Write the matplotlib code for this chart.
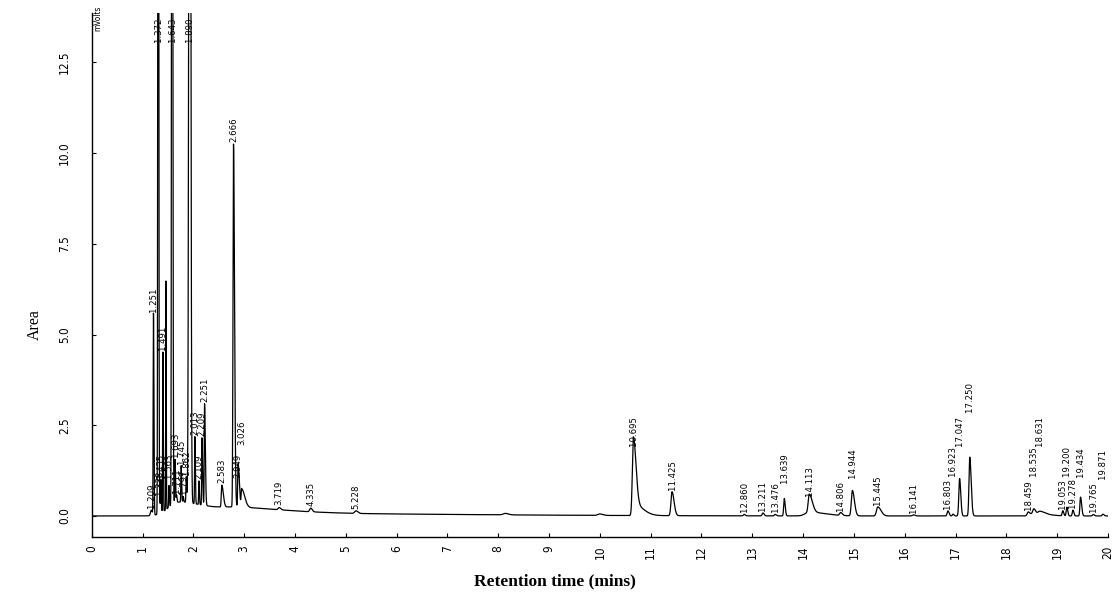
import numpy as np
import matplotlib
matplotlib.use("Agg")
import matplotlib.pyplot as plt

# ---------------- data ----------------
# peaks: position on the time axis (min), height above baseline (mV),
# left sigma (min), right-side tailing factor, printed label ("" = unlabeled)
peak_pos = [1.17, 1.215, 1.31, 1.335, 1.36, 1.40, 1.46, 1.52, 1.58, 1.64, 1.67,
            1.76, 1.80, 1.86, 1.93, 2.03, 2.11, 2.17, 2.22, 2.56, 2.79, 2.88,
            2.95, 3.69, 4.31, 5.20, 8.14, 10.00, 10.66, 10.66, 11.42, 12.84,
            13.21, 13.45, 13.63, 14.12, 14.12, 14.74, 14.97, 15.47, 16.17,
            16.85, 16.95, 17.08, 17.28, 18.43, 18.54, 18.66, 19.11, 19.19,
            19.31, 19.46, 19.71, 19.90]
peak_height = [0.15, 5.55, 40.0, 0.45, 0.90, 4.40, 6.30, 0.60, 40.0, 1.20, 0.20,
               1.00, 0.15, 0.70, 40.0, 1.85, 0.65, 1.85, 2.80, 0.60, 10.0, 1.20,
               0.50, 0.06, 0.10, 0.07, 0.04, 0.04, 1.85, 0.32, 0.66, 0.04,
               0.08, 0.04, 0.48, 0.50, 0.10, 0.08, 0.70, 0.25, 0.03,
               0.14, 0.05, 1.03, 1.62, 0.10, 0.12, 0.06, 0.14, 0.24,
               0.16, 0.52, 0.04, 0.05]
peak_sigma = [0.015, 0.006, 0.008, 0.006, 0.006, 0.005, 0.004, 0.006, 0.008, 0.006, 0.006,
              0.006, 0.006, 0.006, 0.016, 0.006, 0.006, 0.006, 0.006, 0.010, 0.010, 0.008,
              0.010, 0.020, 0.020, 0.025, 0.040, 0.040, 0.020, 0.020, 0.020, 0.015,
              0.015, 0.015, 0.012, 0.020, 0.080, 0.020, 0.020, 0.025, 0.020,
              0.015, 0.012, 0.015, 0.015, 0.020, 0.020, 0.030, 0.012, 0.012,
              0.012, 0.012, 0.015, 0.015]
peak_tail = [1.5, 1.5, 1.0, 1.5, 1.5, 1.5, 1.5, 1.5, 1.5, 1.5, 1.5,
             1.5, 1.5, 1.5, 1.0, 1.5, 1.5, 2.0, 2.5, 3.0, 2.0, 3.0,
             6.0, 1.5, 1.5, 1.5, 1.5, 1.5, 2.5, 9.0, 2.0, 1.5,
             1.5, 1.5, 1.5, 3.0, 4.0, 1.5, 2.0, 2.5, 1.5,
             1.5, 1.5, 1.5, 1.8, 1.5, 1.5, 3.0, 1.5, 1.5,
             1.5, 1.8, 1.5, 1.5]
peak_label = ["1.209", "1.251", "1.372", "1.338", "1.435", "1.491", "", "1.563", "1.643", "1.693", "1.711",
              "1.745", "1.797", "1.862", "1.890", "2.013", "2.109", "2.209", "2.251", "2.583", "2.666", "2.949",
              "3.026", "3.719", "4.335", "5.228", "", "", "10.695", "", "11.425", "12.860",
              "13.211", "13.476", "13.639", "14.113", "", "14.806", "14.944", "15.445", "16.141",
              "16.803", "16.923", "17.047", "17.250", "18.459", "18.535", "18.631", "19.053", "19.200",
              "19.278", "19.434", "19.765", "19.871"]

# broad baseline humps (solvent front drift and late-run rise)
hump_pos = [1.70, 2.30, 3.00, 18.55]
hump_height = [0.35, 0.20, 0.07, 0.08]
hump_sigma = [0.20, 0.30, 0.50, 0.06]
hump_tail = [1.5, 4.0, 8.0, 4.0]

x_ticks = list(range(0, 21))
y_ticks = [0.0, 2.5, 5.0, 7.5, 10.0, 12.5]
y_tick_labels = ["0.0", "2.5", "5.0", "7.5", "10.0", "12.5"]

# vertical shift of some labels (the software moved them to avoid overlaps)
label_lift = {"3.026": 1.15, "2.949": -0.45, "1.563": 0.15, "17.047": 0.83,
              "17.250": 1.2, "16.923": 1.0, "14.944": 0.28, "13.639": 0.38,
              "18.535": 0.85, "18.631": 1.75, "19.200": 0.8, "19.434": 0.5,
              "19.871": 0.9}


def shape(t, rt, h, s, a):
    z = np.where(t < rt, (t - rt) / s, (t - rt) / (s * a))
    return h * np.exp(-0.5 * z * z)


t = np.arange(0.0, 20.0005, 0.001)
base_line = np.zeros_like(t)
for p in zip(hump_pos, hump_height, hump_sigma, hump_tail):
    base_line += shape(t, *p)
signal = base_line.copy()
for p in zip(peak_pos, peak_height, peak_sigma, peak_tail):
    signal += shape(t, *p)

YMIN, YMAX = -0.58, 13.86

fig = plt.figure(figsize=(11.16, 5.97), dpi=100)
ax = fig.add_axes([0.0822, 0.1005, 0.9106, 0.8777])
ax.plot(t, signal, color="black", lw=0.9)
ax.set_xlim(0, 20)
ax.set_ylim(YMIN, YMAX)

for sp in ("top", "right"):
    ax.spines[sp].set_visible(False)
for sp in ("left", "bottom"):
    ax.spines[sp].set_linewidth(1.0)

tick_font = dict(family="DejaVu Sans", stretch="condensed", size=8.5)
ax.set_xticks(x_ticks)
ax.set_xticklabels([str(v) for v in x_ticks], fontdict=tick_font)
ax.set_yticks(y_ticks)
ax.set_yticklabels(y_tick_labels, fontdict=tick_font)
ax.tick_params(axis="x", direction="in", length=3, pad=6, labelrotation=90)
ax.tick_params(axis="y", direction="in", length=3, pad=15, labelrotation=90)
for lab in ax.get_yticklabels():
    lab.set_verticalalignment("center")

# peak labels, written at the apex of each peak
for rt, h, lab in zip(peak_pos, peak_height, peak_label):
    if not lab:
        continue
    i = np.searchsorted(t, rt)
    apex = h + base_line[i]
    if apex > 13.0:
        y = 13.0
    else:
        y = apex + label_lift.get(lab, 0.0)
    ax.annotate(lab, xy=(rt, y), xytext=(0, 1.5), textcoords="offset points",
                rotation=90, ha="center", va="bottom", fontsize=6.8,
                fontstretch="condensed", family="DejaVu Sans")

ax.text(0.006, 1.015, "mVolts", transform=ax.transAxes, rotation=90,
        ha="center", va="top", fontsize=6, fontstretch="condensed")

fig.text(555 / 1116, 1 - 581 / 597, "Retention time (mins)", ha="center", va="center",
         fontsize=12.5, fontweight="bold", family="Liberation Serif")
fig.text(35 / 1116, 1 - 325 / 597, "Area", ha="center", va="center", rotation=90,
         fontsize=11.5, family="Liberation Serif")

fig.savefig("out.png", dpi=100)
